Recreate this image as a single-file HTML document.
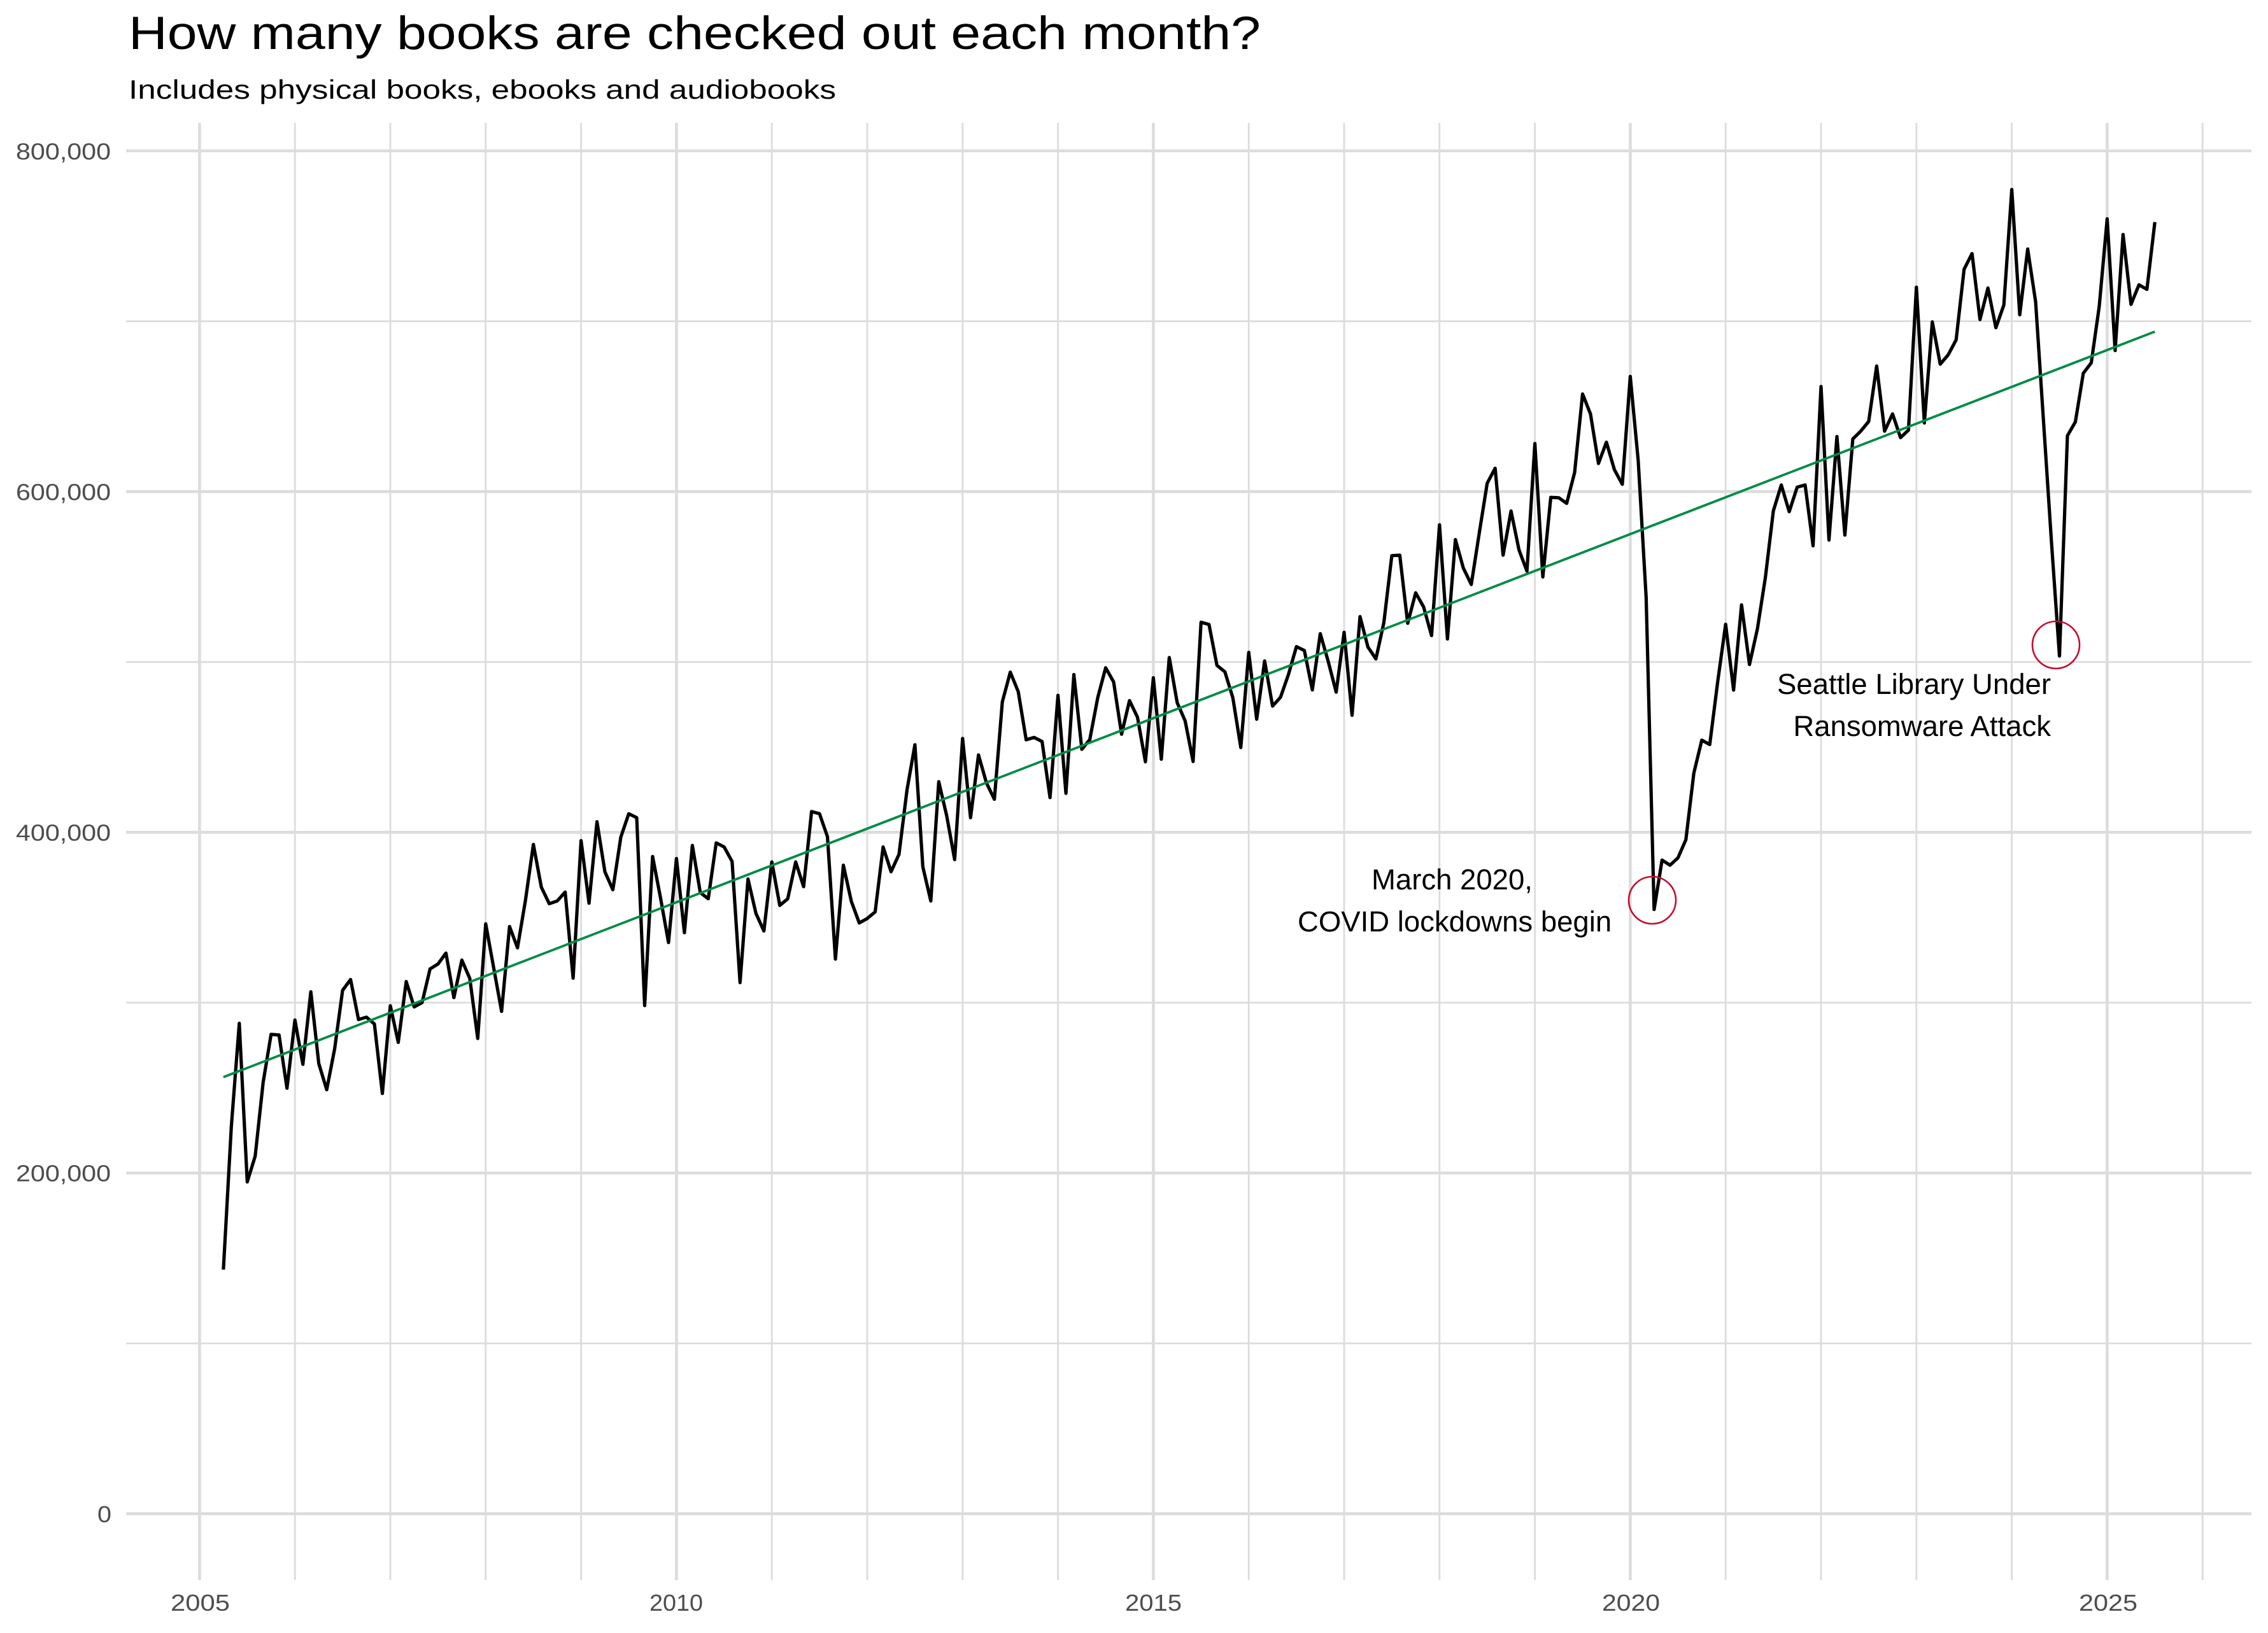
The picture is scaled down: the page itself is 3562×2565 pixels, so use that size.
<!DOCTYPE html>
<html>
<head>
<meta charset="utf-8">
<style>
  html, body { margin: 0; padding: 0; background: #ffffff; }
  body { width: 3562px; height: 2565px; overflow: hidden; }
  svg { display: block; }
  text { font-family: "Liberation Sans", "DejaVu Sans", sans-serif; }
</style>
</head>
<body>
<svg width="3562" height="2565" viewBox="0 0 3562 2565" xmlns="http://www.w3.org/2000/svg">
  <rect x="0" y="0" width="3562" height="2565" fill="#ffffff"/>

  <!-- Title & subtitle -->
  <text x="202" y="77" font-size="73" fill="#000" textLength="1778" lengthAdjust="spacingAndGlyphs">How many books are checked out each month?</text>
  <text x="202" y="155" font-size="42" fill="#000" textLength="1111" lengthAdjust="spacingAndGlyphs">Includes physical books, ebooks and audiobooks</text>

  <!-- Horizontal gridlines -->
  <g stroke="#dcdcdc" fill="none">
    <line x1="198" x2="3536" y1="2110.1" y2="2110.1" stroke-width="2.8"/>
    <line x1="198" x2="3536" y1="1574.9" y2="1574.9" stroke-width="2.8"/>
    <line x1="198" x2="3536" y1="1039.8" y2="1039.8" stroke-width="2.8"/>
    <line x1="198" x2="3536" y1="504.6" y2="504.6" stroke-width="2.8"/>
    <line x1="198" x2="3536" y1="2377.7" y2="2377.7" stroke-width="4.6"/>
    <line x1="198" x2="3536" y1="1842.5" y2="1842.5" stroke-width="4.6"/>
    <line x1="198" x2="3536" y1="1307.3" y2="1307.3" stroke-width="4.6"/>
    <line x1="198" x2="3536" y1="772.2" y2="772.2" stroke-width="4.6"/>
    <line x1="198" x2="3536" y1="237.0" y2="237.0" stroke-width="4.6"/>
  </g>

  <!-- Vertical gridlines -->
  <g stroke="#dcdcdc" fill="none">
    <line y1="193" y2="2482" x1="463.2" x2="463.2" stroke-width="2.8"/>
    <line y1="193" y2="2482" x1="613.0" x2="613.0" stroke-width="2.8"/>
    <line y1="193" y2="2482" x1="762.8" x2="762.8" stroke-width="2.8"/>
    <line y1="193" y2="2482" x1="912.6" x2="912.6" stroke-width="2.8"/>
    <line y1="193" y2="2482" x1="1212.2" x2="1212.2" stroke-width="2.8"/>
    <line y1="193" y2="2482" x1="1362.0" x2="1362.0" stroke-width="2.8"/>
    <line y1="193" y2="2482" x1="1511.8" x2="1511.8" stroke-width="2.8"/>
    <line y1="193" y2="2482" x1="1661.6" x2="1661.6" stroke-width="2.8"/>
    <line y1="193" y2="2482" x1="1961.2" x2="1961.2" stroke-width="2.8"/>
    <line y1="193" y2="2482" x1="2111.0" x2="2111.0" stroke-width="2.8"/>
    <line y1="193" y2="2482" x1="2260.8" x2="2260.8" stroke-width="2.8"/>
    <line y1="193" y2="2482" x1="2410.6" x2="2410.6" stroke-width="2.8"/>
    <line y1="193" y2="2482" x1="2710.2" x2="2710.2" stroke-width="2.8"/>
    <line y1="193" y2="2482" x1="2860.0" x2="2860.0" stroke-width="2.8"/>
    <line y1="193" y2="2482" x1="3009.8" x2="3009.8" stroke-width="2.8"/>
    <line y1="193" y2="2482" x1="3159.6" x2="3159.6" stroke-width="2.8"/>
    <line y1="193" y2="2482" x1="3459.2" x2="3459.2" stroke-width="2.8"/>
    <line y1="193" y2="2482" x1="313.4" x2="313.4" stroke-width="4.6"/>
    <line y1="193" y2="2482" x1="1062.4" x2="1062.4" stroke-width="4.6"/>
    <line y1="193" y2="2482" x1="1811.4" x2="1811.4" stroke-width="4.6"/>
    <line y1="193" y2="2482" x1="2560.4" x2="2560.4" stroke-width="4.6"/>
    <line y1="193" y2="2482" x1="3309.4" x2="3309.4" stroke-width="4.6"/>
  </g>

  <!-- Y axis labels -->
  <g font-size="36" fill="#4d4d4d" text-anchor="end">
    <text x="174" y="250.5" textLength="149" lengthAdjust="spacingAndGlyphs">800,000</text>
    <text x="174" y="785.5" textLength="149" lengthAdjust="spacingAndGlyphs">600,000</text>
    <text x="174" y="1320.5" textLength="149" lengthAdjust="spacingAndGlyphs">400,000</text>
    <text x="174" y="1855.5" textLength="149" lengthAdjust="spacingAndGlyphs">200,000</text>
    <text x="175" y="2391" textLength="22" lengthAdjust="spacingAndGlyphs">0</text>
  </g>

  <!-- X axis labels -->
  <g font-size="36" fill="#4d4d4d">
    <text x="268" y="2530" textLength="93" lengthAdjust="spacingAndGlyphs">2005</text>
    <text x="1020" y="2530" textLength="84" lengthAdjust="spacingAndGlyphs">2010</text>
    <text x="1767" y="2530" textLength="89" lengthAdjust="spacingAndGlyphs">2015</text>
    <text x="2516" y="2530" textLength="91" lengthAdjust="spacingAndGlyphs">2020</text>
    <text x="3265" y="2530" textLength="92" lengthAdjust="spacingAndGlyphs">2025</text>
  </g>

  <!-- Data series (month index k from Jan 2005, value in thousands) -->
  <g transform="matrix(12.48333 0 0 -2.67588 313.4 2377.7)">
    <polyline fill="none" stroke="#000000" stroke-width="5.2" stroke-linejoin="round" stroke-linecap="butt" vector-effect="non-scaling-stroke"
      points="3,143.3 4,227.4 5,287.9 6,194.8 7,209.9 8,253.2 9,281.4 10,281.0 11,249.8
      12,289.8 13,263.8 14,306.4 15,264.3 16,248.9 17,273.0 18,307.3 19,313.6 20,290.1 21,291.5 22,287.5 23,246.7
      24,298.2 25,276.7 26,312.4 27,297.5 28,300.1 29,319.8 30,322.7 31,329.1 32,303.0 33,325.0 34,314.2 35,279.0
      36,346.3 37,320.6 38,294.9 39,344.7 40,332.2 41,360.0 42,392.9 43,367.8 44,358.1 45,359.7 46,364.9 47,314.4
      48,395.1 49,358.4 50,406.2 51,376.8 52,366.3 53,397.2 54,410.9 55,408.6 56,298.3 57,385.8 58,361.4 59,335.3
      60,384.6 61,341.1 62,392.3 63,364.6 64,361.0 65,393.8 66,391.4 67,382.9 68,311.8 69,372.6 70,352.4 71,342.1
      72,382.6 73,357.1 74,361.0 75,382.6 76,368.1 77,412.2 78,410.9 79,397.4 80,325.6 81,380.7 82,359.5 83,346.8
      84,349.4 85,353.3 86,391.4 87,376.9 88,387.1 89,424.7 90,451.4 91,379.7 92,359.7 93,429.7 94,409.7 95,384.0
      96,455.1 97,408.6 98,445.4 99,429.0 100,419.4 101,476.6 102,494.0 103,482.6 104,454.3 105,455.7 106,453.3 107,420.4
      108,480.4 109,422.9 110,492.6 111,448.7 112,454.4 113,479.0 114,496.6 115,488.3 116,457.6 117,477.3 118,467.6 119,441.4
      120,490.7 121,442.9 122,502.6 123,476.1 124,465.4 125,441.6 126,523.3 127,522.0 128,498.0 129,494.2 130,479.0 131,449.8
      132,505.6 133,466.4 134,500.6 135,474.1 136,479.3 137,492.7 138,509.0 139,506.7 140,483.6 141,516.6 142,500.3 143,482.3
      144,517.4 145,468.7 146,526.6 147,508.7 148,501.8 149,523.1 150,562.4 151,562.7 152,522.7 153,540.6 154,532.3 155,515.5
      156,580.5 157,513.5 158,571.8 159,555.1 160,545.5 161,575.6 162,604.9 163,613.7 164,562.7 165,588.6 166,565.8 167,553.3
      168,628.2 169,549.9 170,596.6 171,596.4 172,593.1 173,611.2 174,657.3 175,645.5 176,616.5 177,629.0 178,612.9 179,604.3
      180,667.6 181,618.2 182,537.8 183,354.7 184,383.7 185,380.7 186,385.0 187,395.7 188,434.8 189,454.1 190,451.5 191,488.4
      192,522.1 193,483.5 194,533.5 195,498.5 196,519.5 197,549.6 198,588.6 199,603.9 200,588.2 201,602.6 202,603.9 203,568.2
      204,661.7 205,571.6 206,632.3 207,574.5 208,630.9 209,635.5 210,641.2 211,673.7 212,635.5 213,645.6 214,631.7 215,636.1
      216,720.0 217,640.3 218,699.6 219,674.8 220,680.3 221,689.1 222,730.5 223,739.7 224,701.0 225,719.5 226,696.2 227,709.5
      228,777.3 229,703.8 230,742.4 231,711.4 232,640.7 233,569.9 234,503.5 235,632.8 236,640.9 237,669.5 238,675.6 239,708.6
      240,760.1 241,682.8 242,750.9 243,709.9 244,721.4 245,718.7 246,758.2"/>
    <line x1="3" y1="256.3" x2="246" y2="693.9" stroke="#008B45" stroke-width="3.8" vector-effect="non-scaling-stroke"/>
  </g>

  <!-- Annotation circles -->
  <circle cx="2595" cy="1414" r="37" fill="none" stroke="#c50c2f" stroke-width="2.6"/>
  <circle cx="3229" cy="1013" r="37" fill="none" stroke="#c50c2f" stroke-width="2.6"/>

  <!-- Annotation text -->
  <g font-size="45.5" fill="#000">
    <text x="2154" y="1397">March 2020,</text>
    <text x="2038" y="1463">COVID lockdowns begin</text>
    <text x="3221" y="1090" text-anchor="end">Seattle Library Under</text>
    <text x="3221" y="1156" text-anchor="end">Ransomware Attack</text>
  </g>
</svg>
</body>
</html>
